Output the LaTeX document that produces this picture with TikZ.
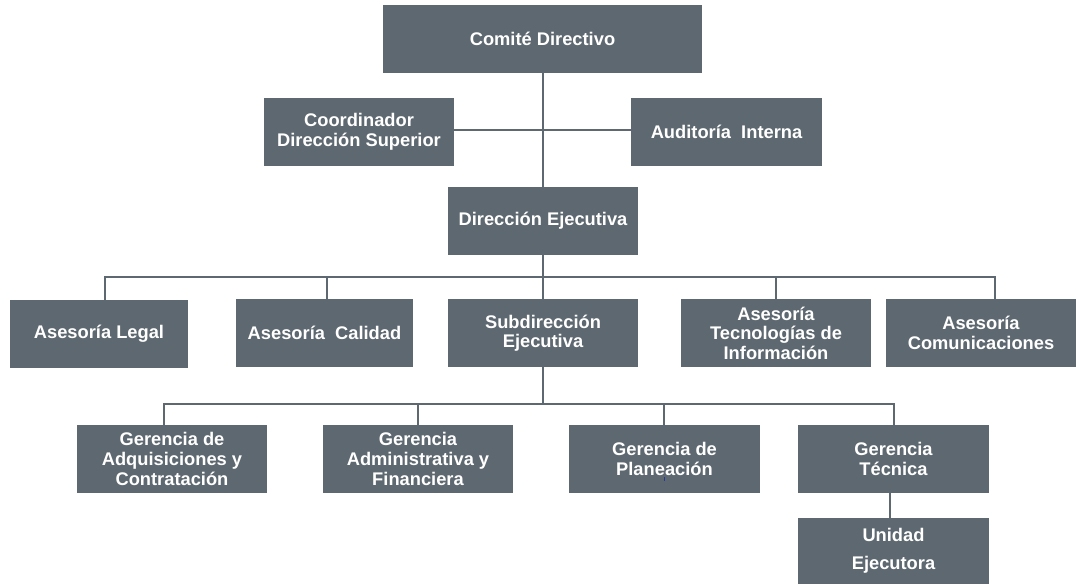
\documentclass[tikz,border=0pt]{standalone}
\usepackage{fontspec}
\setmainfont{Liberation Sans}
\definecolor{boxgray}{RGB}{94,104,112}
\definecolor{cursorblue}{RGB}{40,60,150}
\begin{document}
\begin{tikzpicture}[x=1pt,y=-1pt,
  orgbox/.style={fill=boxgray, draw=none, text=white, inner sep=0pt,
    minimum height=68pt, minimum width=190pt, align=center,
    font=\fontsize{18.3}{19.6}\selectfont\bfseries},
  link/.style={draw=boxgray, line width=1.8pt}]
\useasboundingbox (0,0) rectangle (1078,584);
% level 0-1
\node[orgbox, minimum width=319pt] (comite) at (542.5,39) {Comité Directivo};
\node[orgbox] (coord) at (359,132) {Coordinador\\Dirección Superior};
\node[orgbox, minimum width=191pt] (audit) at (726.5,132) {Auditoría~ Interna};
\node[orgbox] (direj) at (543,221) {Dirección Ejecutiva};
% level 2
\node[orgbox, minimum width=178pt] (legal) at (99,334) {Asesoría Legal};
\node[orgbox, minimum width=177pt] (calidad) at (324.5,333) {Asesoría~ Calidad};
\node[orgbox] (subdir) at (543,333) {Subdirección\\Ejecutiva};
\node[orgbox] (ti) at (776,333) {Asesoría\\Tecnologías de\\Información};
\node[orgbox] (comm) at (981,333) {Asesoría\\Comunicaciones};
% level 3
\node[orgbox] (adq) at (172,459) {Gerencia de\\Adquisiciones y\\Contratación};
\node[orgbox] (adm) at (418,459) {Gerencia\\Administrativa y\\Financiera};
\node[orgbox, minimum width=191pt] (plan) at (664.5,459) {Gerencia de\\Planeación};
\node[orgbox, minimum width=191pt] (tec) at (893.5,459) {Gerencia\\Técnica};
\node[orgbox, minimum width=191pt, minimum height=66pt] (unidad) at (893.5,551) {Unidad\\[8pt]Ejecutora};
% bus coordinates
\coordinate (j1) at (543,130);
\coordinate (b1) at (543,277);
\coordinate (b1l) at (105,277);
\coordinate (b1c) at (327,277);
\coordinate (b1t) at (776,277);
\coordinate (b1r) at (995,277);
\coordinate (b2) at (543,404);
\coordinate (b2a) at (164,404);
\coordinate (b2b) at (418,404);
\coordinate (b2c) at (664,404);
\coordinate (b2d) at (894,404);
\coordinate (ut) at (890,493);
% connectors
\draw[link] (direj.north |- comite.south) -- (direj.north);
\draw[link] (coord.east |- j1) -- (audit.west |- j1);
\draw[link] (direj.south) -- (b1);
\draw[link] (b1l |- legal.north) -- (b1l) -- (b1r) -- (b1r |- comm.north);
\draw[link] (b1c) -- (b1c |- calidad.north);
\draw[link] (b1) -- (subdir.north);
\draw[link] (b1t) -- (b1t |- ti.north);
\draw[link] (subdir.south) -- (b2);
\draw[link] (b2a |- adq.north) -- (b2a) -- (b2d) -- (b2d |- tec.north);
\draw[link] (b2b) -- (b2b |- adm.north);
\draw[link] (b2c) -- (b2c |- plan.north);
\draw[link] (ut) -- (ut |- unidad.north);
% small cursor mark
\draw[cursorblue, line width=0.8pt] (664,477) -- (664,481);
\end{tikzpicture}
\end{document}
